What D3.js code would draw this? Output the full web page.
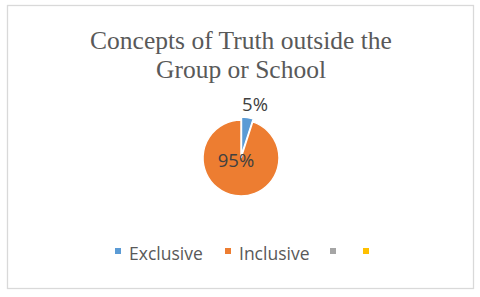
<!DOCTYPE html>
<html>
<head>
<meta charset="utf-8">
<script src="https://cdn.jsdelivr.net/npm/d3@7"></script>
<style>
  html, body { margin: 0; padding: 0; background: #fff; }
  svg { display: block; }
</style>
</head>
<body>
<svg id="chart"></svg>
<script>
const CATEGORIES = ['Exclusive', 'Inclusive', '', ''];
const VALUES = [5, 95, 0, 0];
const LABELS = ['5%', '95%', '', ''];
const COLORS = ['#5b9bd5', '#ed7d31', '#a5a5a5', '#ffc000'];
const TITLE = ['Concepts of Truth outside the', 'Group or School'];

const W = 480, H = 297;
const svg = d3.select('#chart').attr('width', W).attr('height', H);

// chart frame
svg.append('rect')
  .attr('x', 7.5).attr('y', 5.5)
  .attr('width', 466).attr('height', 283)
  .attr('fill', '#fff')
  .attr('stroke', '#d9d9d9')
  .attr('stroke-width', 1.3);

// title
svg.append('text')
  .attr('text-anchor', 'middle')
  .attr('font-family', '"Liberation Serif", "Times New Roman", serif')
  .attr('font-size', 25.5)
  .attr('fill', '#595959')
  .selectAll('tspan')
  .data(TITLE)
  .join('tspan')
  .attr('x', 241)
  .attr('y', (d, i) => 49 + i * 29)
  .text((d) => d);

const cx = 241, cy = 158, r = 38;
const data = CATEGORIES.map((c, i) => ({ c, v: VALUES[i], label: LABELS[i], color: COLORS[i] }));
const pie = d3.pie().sort(null).value((d) => d.v);
const arc = d3.arc().innerRadius(0).outerRadius(r);
const arcs = pie(data).filter((d) => d.data.v > 0);

const g = svg.append('g').attr('transform', `translate(${cx},${cy})`);

g.selectAll('path')
  .data(arcs)
  .join('path')
  .attr('transform', (d, i) => {
    if (i !== 0) return null;
    const a = (d.startAngle + d.endAngle) / 2;
    return `translate(${Math.sin(a) * 3},${-Math.cos(a) * 3})`;
  })
  .attr('d', arc)
  .attr('fill', (d) => d.data.color)
  .attr('stroke', '#fff')
  .attr('stroke-width', 1.5);

// data labels
const labelPos = [[255, 111], [236, 167]];
g.selectAll('text')
  .data(arcs)
  .join('text')
  .attr('x', (d, i) => labelPos[i][0] - cx)
  .attr('y', (d, i) => labelPos[i][1] - cy)
  .attr('text-anchor', 'middle')
  .attr('font-family', '"Open Sans", "Noto Sans", sans-serif')
  .attr('font-size', 18.5)
  .attr('fill', '#404040')
  .text((d) => d.data.label);

// legend
const legendX = [115, 225, 330, 363];
const leg = svg.append('g')
  .selectAll('g')
  .data(data)
  .join('g')
  .attr('transform', (d, i) => `translate(${legendX[i]},248)`);

leg.append('rect')
  .attr('x', 0).attr('y', 0)
  .attr('width', 6).attr('height', 6)
  .attr('fill', (d) => d.color);

leg.append('text')
  .attr('x', 14).attr('y', 12)
  .attr('font-family', '"Open Sans", "Noto Sans", sans-serif')
  .attr('font-size', 17.5)
  .attr('fill', '#595959')
  .text((d) => d.c);
</script>
</body>
</html>
